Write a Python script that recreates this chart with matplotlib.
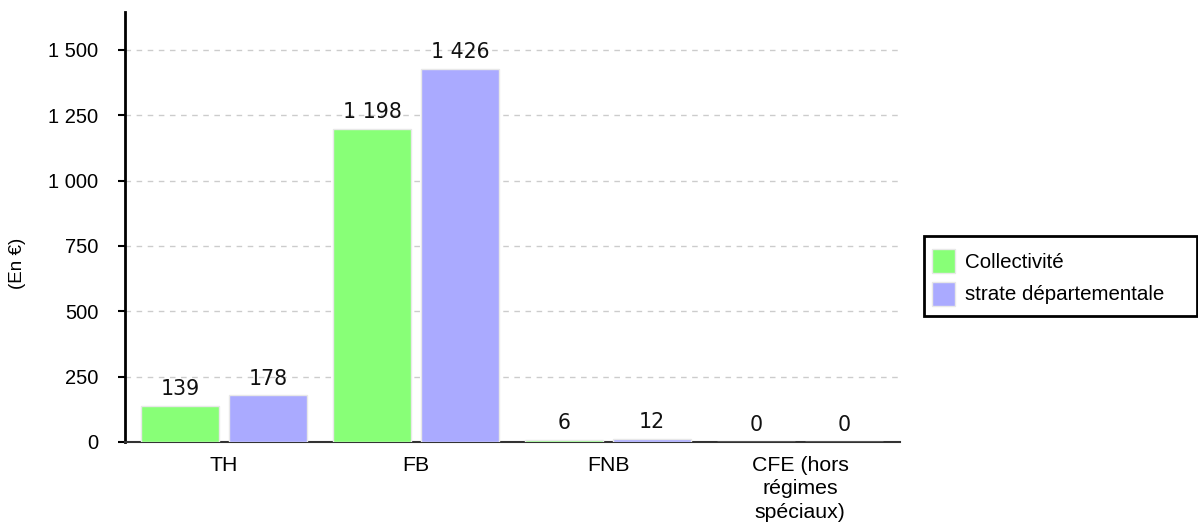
import matplotlib
matplotlib.use("Agg")
import matplotlib.pyplot as plt
from matplotlib.patches import Rectangle
import numpy as np

categories = ["TH", "FB", "FNB", "CFE (hors\nrégimes\nspéciaux)"]
collectivite = [139, 1198, 6, 0]
strate = [178, 1426, 12, 0]
series_names = ["Collectivité", "strate départementale"]
yticks = [0, 250, 500, 750, 1000, 1250, 1500]

def fmt(v):
    return "{:,}".format(int(v)).replace(",", " ")

green = "#88ff77"
blue = "#aaaaff"

fig = plt.figure(figsize=(11.98, 5.26), dpi=100)
ax = fig.add_axes([0.1043, 0.1597, 0.647, 0.8173])

x = np.arange(len(categories))
w = 0.405
b1 = ax.bar(x - 0.229, collectivite, w, color=green, edgecolor="#e8e8e8", linewidth=1, label=series_names[0], zorder=3)
b2 = ax.bar(x + 0.229, strate, w, color=blue, edgecolor="#e8e8e8", linewidth=1, label=series_names[1], zorder=3)

for bars, vals in ((b1, collectivite), (b2, strate)):
    for r, v in zip(bars, vals):
        ax.annotate(fmt(v), (r.get_x() + r.get_width() / 2, r.get_height()),
                    xytext=(0, 5), textcoords="offset points", ha="center", va="bottom",
                    fontsize=14.8, family="DejaVu Sans", color="#111111", zorder=5)

ax.set_xlim(-0.515, 3.52)
ax.set_ylim(0, 1645)
ax.set_yticks(yticks)
ax.set_yticklabels([fmt(t) for t in yticks], family="Liberation Sans", fontsize=14.5)
ax.set_xticks(x)
ax.set_xticklabels(categories, family="Liberation Sans", fontsize=15.3, linespacing=1.3)
ax.tick_params(axis="x", length=0, pad=10)
ax.tick_params(axis="y", length=5, width=1.5, pad=14)

ax.yaxis.grid(True, linestyle=(0, (4, 4)), color="#cccccc", linewidth=1, zorder=0)
ax.set_axisbelow(True)
for s in ("top", "right"):
    ax.spines[s].set_visible(False)
ax.spines["left"].set_linewidth(2)
ax.spines["bottom"].set_linewidth(1.5)
ax.spines["bottom"].set_color("#333333")

fig.text(0.015, 0.5, "(En €)", rotation=90, va="center", ha="center",
         family="Liberation Sans", fontsize=13.5)

# legend box
fig.patches.append(Rectangle((924 / 1198, 1 - 316 / 526), 273 / 1198, 80 / 526,
                             transform=fig.transFigure, fill=False, edgecolor="black",
                             linewidth=2, zorder=1))
leg = fig.legend(handles=[b1, b2], loc="upper left", bbox_to_anchor=(0.778, 0.527),
                 prop={"family": "Liberation Sans", "size": 14.8}, frameon=False,
                 handlelength=1.1, handleheight=1.4, handletextpad=0.5, borderpad=0,
                 labelspacing=0.45, borderaxespad=0)

fig.savefig("out.png", dpi=100)
